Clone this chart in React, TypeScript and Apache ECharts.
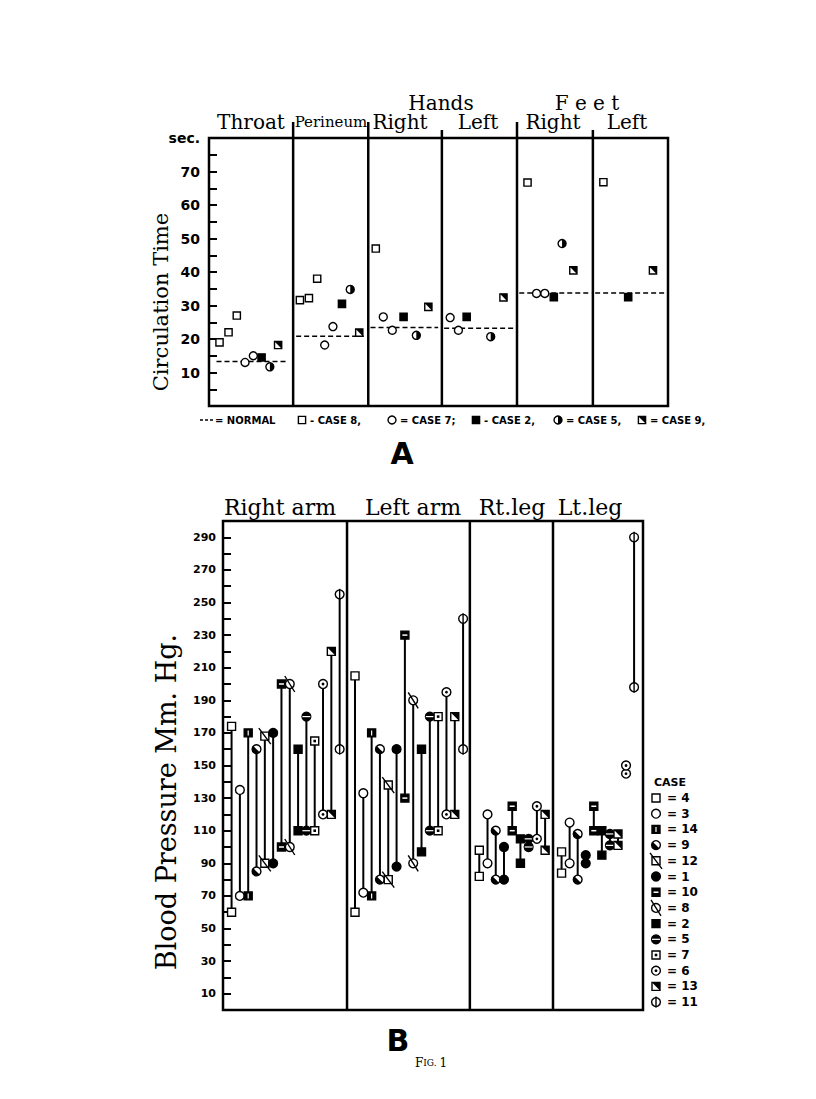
import React, { useEffect, useRef } from 'react';
import * as echarts from 'echarts';

// ================= Chart A : circulation time (sec.) =================
const panelTitlesA = ['Throat', 'Perineum', 'Right', 'Left', 'Right', 'Left'];
const groupTitlesA = ['Hands', 'F e e t'];
// panel edges in x-axis units (layout of the six panels)
const panelEdgesA = [0, 1.12, 2.12, 3.1, 4.1, 5.11, 6.11];
const yTicksA = { min: 0, max: 80, step: 5 };

// [panel, position inside panel, seconds]
const case8A = [[0, 0.14, 19], [0, 0.26, 22], [0, 0.37, 27], [1, 0.09, 31.6], [1, 0.21, 32.2], [1, 0.32, 38], [2, 0.1, 47], [4, 0.14, 66.7], [5, 0.14, 66.8]];
const case7A = [[0, 0.48, 13], [0, 0.59, 15], [1, 0.42, 18.2], [1, 0.53, 23.7], [2, 0.2, 26.6], [2, 0.32, 22.6], [3, 0.11, 26.4], [3, 0.22, 22.6], [4, 0.26, 33.6], [4, 0.37, 33.6]];
const case2A = [[0, 0.7, 14.5], [1, 0.65, 30.5], [2, 0.47, 26.6], [3, 0.33, 26.6], [4, 0.49, 32.5], [5, 0.47, 32.5]];
const case5A = [[0, 0.81, 11.7], [1, 0.76, 34.8], [2, 0.64, 21.1], [3, 0.65, 20.7], [4, 0.6, 48.5]];
const case9A = [[0, 0.92, 18.2], [1, 0.88, 21.9], [2, 0.8, 29.6], [3, 0.82, 32.4], [4, 0.75, 40.5], [5, 0.8, 40.5]];
// normal: [panel, from, to, seconds]
const normalA = [[0, 0.1, 1.03, 13.3], [1, 0.04, 0.94, 20.8], [2, 0.03, 0.93, 23.4], [3, 0.03, 0.96, 23.2], [4, 0.03, 0.99, 33.7], [5, 0.03, 0.97, 33.7]];
const kindsA = ['sqOpen', 'circOpen', 'sqFill', 'circHalf', 'sqCorner'];
const legendTextsA = ['- CASE 8,', '= CASE 7;', '- CASE 2,', '= CASE 5,', '= CASE 9,'];

// ================= Chart B : blood pressure (mm Hg) =================
const panelTitlesB = ['Right arm', 'Left arm', 'Rt.leg', 'Lt.leg'];
const yTicksB = { min: 0, max: 300, step: 10 };

const rightArmCases = [4, 3, 14, 9, 12, 1, 10, 8, 2, 5, 7, 6, 13, 11];
const rightArmHigh = [174, 135, 170, 160, 168, 170, 200, 200, 160, 180, 165, 200, 220, 255];
const rightArmLow = [60, 70, 70, 85, 90, 90, 100, 100, 110, 110, 110, 120, 120, 160];

const leftArmCases = [4, 3, 14, 9, 12, 1, 10, 8, 2, 5, 7, 6, 13, 11];
const leftArmHigh = [205, 133, 170, 160, 138, 160, 230, 190, 160, 180, 180, 195, 180, 240];
const leftArmLow = [60, 72, 70, 80, 80, 88, 130, 90, 97, 110, 110, 120, 120, 160];

const rtLegCases = [4, 3, 9, 1, 10, 2, 5, 6, 13];
const rtLegHigh = [98, 120, 110, 100, 125, 105, 105, 125, 120];
const rtLegLow = [82, 90, 80, 80, 110, 90, 100, 105, 98];

const ltLegCases = [4, 3, 9, 1, 10, 2, 5, 13, 6, 11];
const ltLegHigh = [97, 115, 108, 95, 125, 110, 108, 108, 150, 290];
const ltLegLow = [84, 90, 80, 90, 110, 95, 101, 101, 145, 198];

const legendCasesB = [4, 3, 14, 9, 12, 1, 10, 8, 2, 5, 7, 6, 13, 11];
const kindB: Record<number, string> = {
  4: 'sqOpen', 3: 'circOpen', 14: 'sqVbar', 9: 'circDiag', 12: 'sqSlash', 1: 'circFill', 10: 'sqHbar',
  8: 'circSlash', 2: 'sqFill', 5: 'circHbar', 7: 'sqDot', 6: 'circDot', 13: 'sqCorner', 11: 'circVbar',
};

// layout of panel B (x units)
const startB = [1.0, 15.4, 29.9, 39.5];
const stepB = [0.97, 0.97, 0.96, 0.94];
const dividersB = [14.47, 28.8, 38.5];
const xMaxB = 49;

const K = '#000';
const W = '#fff';

function glyph(kind: string, x: number, y: number, s: number): any[] {
  const lw = 1.4;
  const sq = (fill: string) => ({ type: 'rect', shape: { x: x - s, y: y - s, width: 2 * s, height: 2 * s }, style: { fill, stroke: K, lineWidth: lw } });
  const ci = (fill: string) => ({ type: 'circle', shape: { cx: x, cy: y, r: s + 0.4 }, style: { fill, stroke: K, lineWidth: lw } });
  const ln = (x1: number, y1: number, x2: number, y2: number, stroke = K, w = lw) => ({ type: 'line', shape: { x1, y1, x2, y2 }, style: { stroke, lineWidth: w } });
  const sec = (a0: number, a1: number) => ({ type: 'sector', shape: { cx: x, cy: y, r: s + 0.4, r0: 0, startAngle: a0, endAngle: a1, clockwise: true }, style: { fill: K } });
  switch (kind) {
    case 'sqOpen': return [sq(W)];
    case 'sqFill': return [sq(K)];
    case 'circOpen': return [ci(W)];
    case 'circFill': return [ci(K)];
    case 'circHalf': return [ci(W), sec(-Math.PI / 2, Math.PI / 2)];
    case 'circDiag': return [ci(W), sec(Math.PI / 4, (Math.PI * 5) / 4)];
    case 'sqCorner': return [sq(W), { type: 'polygon', shape: { points: [[x - s, y - s], [x + s, y - s], [x + s, y + s]] }, style: { fill: K } }];
    case 'sqVbar': return [sq(K), ln(x, y - s + 1.5, x, y + s - 1.5, W, 1.2)];
    case 'sqHbar': return [sq(K), ln(x - s + 1.5, y, x + s - 1.5, y, W, 1.5)];
    case 'sqSlash': return [sq(W), ln(x - s - 2, y - s - 4, x + s + 2, y + s + 4)];
    case 'circSlash': return [ci(W), ln(x - s - 1, y - s - 4, x + s + 1, y + s + 4)];
    case 'circHbar': return [ci(K), ln(x - s, y, x + s, y, W, 1.2)];
    case 'sqDot': return [sq(W), { type: 'rect', shape: { x: x - 1.3, y: y - 1.3, width: 2.6, height: 2.6 }, style: { fill: K } }];
    case 'circDot': return [ci(W), { type: 'circle', shape: { cx: x, cy: y, r: 1.4 }, style: { fill: K } }];
    case 'circVbar': return [ci(W), ln(x, y - s - 1.5, x, y + s + 1.5)];
  }
  return [];
}

const serif = '"DejaVu Serif", serif';
const sans = '"DejaVu Sans", sans-serif';

function buildOption() {
  const casesA = [case8A, case7A, case2A, case5A, case9A];
  const pointsA = casesA.flatMap((c, ci) => c.map(([p, off, v]) => [panelEdgesA[p] + off, v, ci]));
  const normals = normalA.map(([p, a, b, v]) => [panelEdgesA[p] + a, panelEdgesA[p] + b, v]);
  const dividerExt = [16, 16, 8, 16, 8];
  const dividersA = panelEdgesA.slice(1, -1).map((x, i) => [x, dividerExt[i]]);

  const panelsB = [
    { cases: rightArmCases, high: rightArmHigh, low: rightArmLow },
    { cases: leftArmCases, high: leftArmHigh, low: leftArmLow },
    { cases: rtLegCases, high: rtLegHigh, low: rtLegLow },
    { cases: ltLegCases, high: ltLegHigh, low: ltLegLow },
  ];
  const pointsB = panelsB.flatMap((p, pi) => p.cases.map((c, i) => [startB[pi] + i * stepB[pi], p.high[i], p.low[i], c]));

  const graphic: any[] = [];
  const txt = (text: string, x: number, y: number, font: string, align = 'center', extra: any = {}) => ({
    type: 'text', x, y, ...extra,
    style: { text, font, fill: K, textAlign: align, textVerticalAlign: 'middle' },
  });

  // Chart A titles
  const titleXA = [251, 331, 400, 478, 553, 627];
  panelTitlesA.forEach((t, i) => graphic.push(txt(t, titleXA[i], 122, i === 1 ? `15px ${serif}` : `20px ${serif}`)));
  graphic.push(txt(groupTitlesA[0], 441, 103, `20px ${serif}`));
  graphic.push(txt(groupTitlesA[1], 587, 103, `20px ${serif}`));
  graphic.push(txt('Circulation Time', 161, 302, `21px ${serif}`, 'center', { rotation: Math.PI / 2 }));

  // Chart A legend
  graphic.push({ type: 'line', shape: { x1: 200, y1: 420, x2: 214, y2: 420 }, style: { stroke: K, lineWidth: 1.5, lineDash: [3, 2] } });
  graphic.push(txt('= NORMAL', 215, 420, `bold 10px ${sans}`, 'left'));
  const legXA = [302, 392, 476, 558, 642];
  legendTextsA.forEach((t, i) => {
    graphic.push({ type: 'group', children: glyph(kindsA[i], legXA[i], 420, 3.6) });
    graphic.push(txt(t, legXA[i] + 8, 420, `bold 10px ${sans}`, 'left'));
  });
  graphic.push(txt('A', 402, 453, `bold 30px ${sans}`));

  // Chart B titles
  const titleXB = [280, 413, 512, 590];
  panelTitlesB.forEach((t, i) => graphic.push(txt(t, titleXB[i], 507, `22px ${serif}`)));
  graphic.push(txt('Blood Pressure Mm. Hg.', 166, 802, `27px ${serif}`, 'center', { rotation: Math.PI / 2 }));

  // Chart B legend
  graphic.push(txt('CASE', 654, 782, `bold 11px ${sans}`, 'left'));
  legendCasesB.forEach((c, i) => {
    const y = 798 + i * 15.7;
    graphic.push({ type: 'group', children: glyph(kindB[c], 656, y, 4) });
    graphic.push(txt(`= ${c}`, 667, y, `bold 12px ${sans}`, 'left'));
  });
  graphic.push(txt('B', 398, 1040, `bold 30px ${sans}`));
  graphic.push({
    type: 'text', x: 415, y: 1063,
    style: {
      text: '{a|F}{b|IG. }{a|1}', fill: K, textVerticalAlign: 'middle',
      rich: { a: { font: `12px ${serif}`, fill: K }, b: { font: `9px ${serif}`, fill: K } },
    },
  });

  const yAxisBase = (min: number, max: number, step: number, fmt: (v: number) => string, fontSize: number, margin: number, gi: number) => ({
    type: 'value', gridIndex: gi, min, max, interval: step,
    axisLine: { show: false },
    axisTick: { show: true, inside: true, length: 8, lineStyle: { color: K, width: 2 } },
    splitLine: { show: false },
    axisLabel: { formatter: fmt, color: K, fontFamily: sans, fontWeight: 'bold', fontSize, margin, showMinLabel: true, showMaxLabel: true },
  });

  return {
    animation: false,
    backgroundColor: '#fff',
    grid: [
      { left: 209, top: 138, width: 459, height: 268, show: true, borderColor: K, borderWidth: 2.5 },
      { left: 223, top: 521, width: 420, height: 489, show: true, borderColor: K, borderWidth: 2.5 },
    ],
    xAxis: [
      { type: 'value', gridIndex: 0, min: 0, max: panelEdgesA[panelEdgesA.length - 1], show: false },
      { type: 'value', gridIndex: 1, min: 0, max: xMaxB, show: false },
    ],
    yAxis: [
      yAxisBase(yTicksA.min, yTicksA.max, yTicksA.step, (v: number) => (v === 80 ? 'sec.' : v > 0 && v % 10 === 0 ? String(v) : ''), 14, 9, 0),
      yAxisBase(yTicksB.min, yTicksB.max, yTicksB.step, (v: number) => (v % 20 === 10 ? String(v) : ''), 11, 7, 1),
    ],
    series: [
      {
        type: 'custom', xAxisIndex: 0, yAxisIndex: 0, silent: true, z: 3,
        data: dividersA,
        renderItem: (params: any, api: any) => {
          const p0 = api.coord([api.value(0), 0]);
          const p1 = api.coord([api.value(0), yTicksA.max]);
          return { type: 'line', shape: { x1: p0[0], y1: p0[1], x2: p1[0], y2: p1[1] - api.value(1) }, style: { stroke: K, lineWidth: 2.5 } };
        },
      },
      {
        type: 'custom', xAxisIndex: 0, yAxisIndex: 0, silent: true, z: 3,
        data: normals,
        renderItem: (params: any, api: any) => {
          const p0 = api.coord([api.value(0), api.value(2)]);
          const p1 = api.coord([api.value(1), api.value(2)]);
          return { type: 'line', shape: { x1: p0[0], y1: p0[1], x2: p1[0], y2: p1[1] }, style: { stroke: K, lineWidth: 1.5, lineDash: [5, 3] } };
        },
      },
      {
        type: 'custom', xAxisIndex: 0, yAxisIndex: 0, silent: true, z: 4,
        data: pointsA,
        renderItem: (params: any, api: any) => {
          const p = api.coord([api.value(0), api.value(1)]);
          return { type: 'group', children: glyph(kindsA[api.value(2)], p[0], p[1], 3.6) };
        },
      },
      {
        type: 'custom', xAxisIndex: 1, yAxisIndex: 1, silent: true, z: 3,
        data: dividersB.map((x) => [x]),
        renderItem: (params: any, api: any) => {
          const p0 = api.coord([api.value(0), 0]);
          const p1 = api.coord([api.value(0), yTicksB.max]);
          return { type: 'line', shape: { x1: p0[0], y1: p0[1], x2: p1[0], y2: p1[1] }, style: { stroke: K, lineWidth: 2.5 } };
        },
      },
      {
        type: 'custom', xAxisIndex: 1, yAxisIndex: 1, silent: true, z: 4,
        data: pointsB,
        renderItem: (params: any, api: any) => {
          const hi = api.coord([api.value(0), api.value(1)]);
          const lo = api.coord([api.value(0), api.value(2)]);
          const kind = kindB[api.value(3)];
          return {
            type: 'group',
            children: [
              { type: 'line', shape: { x1: hi[0], y1: hi[1], x2: lo[0], y2: lo[1] }, style: { stroke: K, lineWidth: 2 } },
              ...glyph(kind, lo[0], lo[1], 4),
              ...glyph(kind, hi[0], hi[1], 4),
            ],
          };
        },
      },
    ],
    graphic,
  };
}

export default function App() {
  const ref = useRef<HTMLDivElement>(null);
  useEffect(() => {
    if (!ref.current) return;
    const chart = echarts.init(ref.current, undefined, { renderer: 'svg' });
    chart.setOption(buildOption() as any);
    return () => chart.dispose();
  }, []);
  return <div ref={ref} style={{ position: 'absolute', left: 0, top: 0, width: 816, height: 1099, background: '#fff' }} />;
}
